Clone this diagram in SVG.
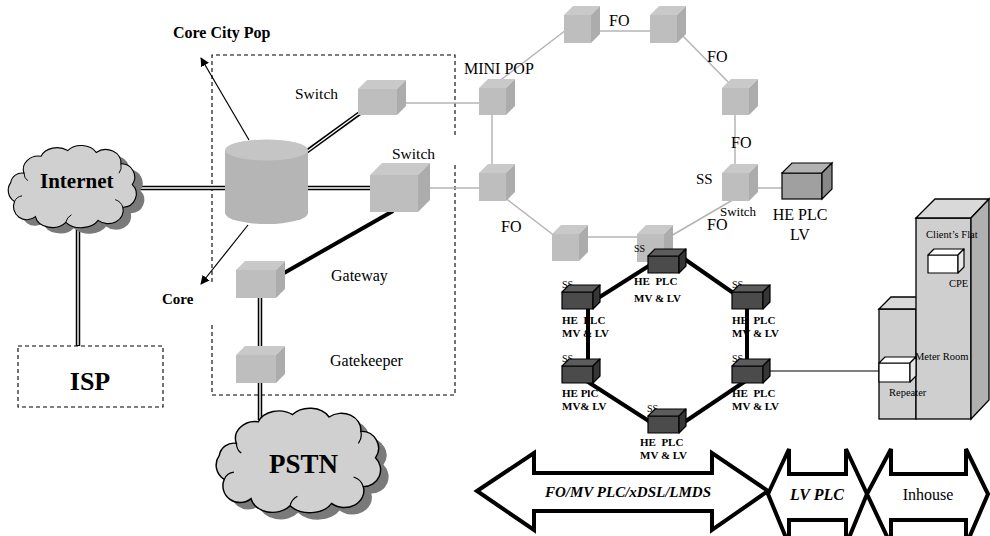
<svg xmlns="http://www.w3.org/2000/svg" width="990" height="536" viewBox="0 0 990 536">
  <style>
    text { font-family: "Liberation Serif", "Times New Roman", serif; fill: #000; }
    .lbl { font-size: 16px; }
    .b { font-weight: bold; }
    .plc { font-size: 11px; font-weight: bold; white-space: pre; }
    .ss { font-size: 10px; }
    .small { font-size: 10.5px; }
    .gf { fill: #bebebe; }
    .gt { fill: #c9c9c9; }
    .gs { fill: #acacac; }
    .df { fill: #4b4b4b; stroke: #000; stroke-width: 1.2; stroke-linejoin: round; }
    .dt { fill: #5c5c5c; stroke: #000; stroke-width: 1.2; stroke-linejoin: round; }
    .ds { fill: #363636; stroke: #000; stroke-width: 1.2; stroke-linejoin: round; }
    .wf { fill: #fff; stroke: #000; stroke-width: 1.2; stroke-linejoin: round; }
    .ws { fill: #e8e8e8; stroke: #000; stroke-width: 1.2; stroke-linejoin: round; }
    .fo { stroke: #b4b4b4; stroke-width: 1.5; fill: none; }
    .dbl-o { stroke: #000; stroke-width: 4.5; fill: none; }
    .dbl-i { stroke: #fff; stroke-width: 1.4; fill: none; }
    .thick { stroke: #000; stroke-width: 4; fill: none; }
    .thin { stroke: #000; stroke-width: 1.2; fill: none; }
    .dash { stroke: #000; stroke-width: 1.1; fill: none; stroke-dasharray: 4 3; }
    .cloud { fill: #d0d0d0; stroke: #000; stroke-width: 1.2; }
    .curl { fill: none; stroke: #000; stroke-width: 1; }
    .cloud-sh { fill: #7a7a7a; }
    .band { fill: #fff; stroke: #000; stroke-width: 4; stroke-linejoin: miter; }
    .bld-f { fill: #cfcfcf; stroke: #000; stroke-width: 1.3; }
    .bld-t { fill: #d9d9d9; stroke: #000; stroke-width: 1.3; }
    .bld-s { fill: #b0b0b0; stroke: #000; stroke-width: 1.3; }
  </style>
  <defs>
    <marker id="arrow" viewBox="0 0 10 10" refX="9" refY="5" markerWidth="9" markerHeight="9" markerUnits="userSpaceOnUse" orient="auto">
      <path d="M0,0 L10,5 L0,10 Z" fill="#000"/>
    </marker>
    <path id="cloudShape" d="M20,32 A16,14 0 0 1 38,14 A18,14 0 0 1 66,8 A18,14 0 0 1 96,10 A16,14 0 0 1 122,22 A14,14 0 0 1 134,44 A14,14 0 0 1 124,68 A16,14 0 0 1 98,82 A20,14 0 0 1 64,84 A18,14 0 0 1 32,78 A14,14 0 0 1 10,62 A14,14 0 0 1 6,42 A12,12 0 0 1 20,32 Z"/>
    <path id="cloudCurls" d="M20,32 A10,10 0 0 0 24,40 M122,22 A12,12 0 0 1 120,32 M124,68 A12,12 0 0 0 116,60 M64,84 A12,12 0 0 1 70,76 M10,62 A10,10 0 0 1 18,56"/>
  </defs>

  <!-- core city pop boundary and isp boundary -->
  <g id="boundaries">
    <path class="dash" d="M212,282 L212,55 L455,55 L455,138"/>
    <path class="dash" d="M455,165 L455,395 L212,395 L212,322"/>
    <rect class="dash" x="18" y="346" width="145" height="61"/>
  </g>

  <!-- connectors -->
  <g id="connectors">
    <!-- fibre ring (grey) -->
    <line class="fo" x1="498" y1="82" x2="566" y2="30"/>
    <line class="fo" x1="591" y1="31" x2="652" y2="31"/>
    <line class="fo" x1="677" y1="30" x2="736" y2="90"/>
    <line class="fo" x1="735" y1="112" x2="735" y2="175"/>
    <line class="fo" x1="736" y1="198" x2="664" y2="240"/>
    <line class="fo" x1="579" y1="237" x2="639" y2="237"/>
    <line class="fo" x1="560" y1="240" x2="500" y2="194"/>
    <line class="fo" x1="492" y1="112" x2="492" y2="175"/>
    <line class="fo" x1="397" y1="103" x2="481" y2="103"/>
    <line class="fo" x1="418" y1="188" x2="481" y2="188"/>
    <line class="fo" x1="749" y1="188" x2="784" y2="188"/>

    <!-- double lines -->
    <g>
      <line class="dbl-o" x1="138" y1="188" x2="226" y2="188"/>
      <line class="dbl-o" x1="307" y1="188" x2="371" y2="188"/>
      <line class="dbl-o" x1="306" y1="152" x2="360" y2="113"/>
      <line class="dbl-o" x1="78" y1="226" x2="78" y2="346"/>
      <line class="dbl-o" x1="260" y1="297" x2="260" y2="356"/>
      <line class="dbl-o" x1="260" y1="382" x2="260" y2="420"/>
      <line class="dbl-i" x1="136" y1="188" x2="228" y2="188"/>
      <line class="dbl-i" x1="305" y1="188" x2="373" y2="188"/>
      <line class="dbl-i" x1="305" y1="153" x2="361" y2="112"/>
      <line class="dbl-i" x1="78" y1="224" x2="78" y2="345"/>
      <line class="dbl-i" x1="260" y1="296" x2="260" y2="357"/>
      <line class="dbl-i" x1="260" y1="381" x2="260" y2="419"/>
    </g>

    <!-- switch to gateway -->
    <line class="thick" x1="393" y1="211" x2="284" y2="273" stroke-width="3"/>

    <!-- core arrows -->
    <line class="thin" x1="249" y1="140" x2="201" y2="58" marker-end="url(#arrow)"/>
    <line class="thin" x1="248" y1="225" x2="201" y2="284" marker-end="url(#arrow)"/>

    <!-- plc ring (thick black) -->
    <line class="thick" x1="655" y1="262" x2="595" y2="300"/>
    <line class="thick" x1="683" y1="258" x2="742" y2="299"/>
    <line class="thick" x1="588" y1="305" x2="588" y2="368"/>
    <line class="thick" x1="747" y1="305" x2="747" y2="368"/>
    <line class="thick" x1="585" y1="380" x2="655" y2="425"/>
    <line class="thick" x1="680" y1="425" x2="750" y2="378"/>

    <!-- low voltage line to repeater -->
    <line class="thin" x1="768" y1="371" x2="881" y2="371"/>
  </g>

  <!-- clouds -->
  <g id="internet">
    <use href="#cloudShape" class="cloud-sh" transform="translate(13,149) scale(0.95,0.944)"/>
    <use href="#cloudShape" class="cloud" transform="translate(5,143) scale(0.95,0.944)"/>
    <use href="#cloudCurls" class="curl" transform="translate(5,143) scale(0.95,0.944)"/>
    <text x="40" y="188" class="b" font-size="21">Internet</text>
  </g>
  <g id="pstn">
    <use href="#cloudShape" class="cloud-sh" transform="translate(220,412) scale(1.22,1.2)"/>
    <use href="#cloudShape" class="cloud" transform="translate(212,405) scale(1.22,1.2)"/>
    <use href="#cloudCurls" class="curl" transform="translate(212,405) scale(1.22,1.2)"/>
    <text x="269" y="473" class="b" font-size="27">PSTN</text>
  </g>
  <g id="isp">
    <text x="90" y="390" class="b" font-size="26" text-anchor="middle">ISP</text>
  </g>

  <!-- core router -->
  <g id="core-router">
    <path d="M225,150 L225,213 A41.5,11 0 0 0 308,213 L308,150 Z" fill="#b5b5b5"/>
    <ellipse cx="266.5" cy="150" rx="41.5" ry="10.5" fill="#c5c5c5"/>
  </g>
  <g id="core-labels">
    <text x="173" y="38" class="b" font-size="16">Core City Pop</text>
    <text x="162" y="304" class="b" font-size="15">Core</text>
  </g>

  <g id="switch-1">
    <rect class="gf" x="358" y="89" width="39" height="26"/>
    <polygon class="gt" points="358,89 367,80 406,80 397,89"/>
    <polygon class="gs" points="397,89 406,80 406,106 397,115"/>
    <text x="295" y="99" font-size="15.5">Switch</text>
  </g>
  <g id="switch-2">
    <rect class="gf" x="370" y="175" width="48" height="37"/>
    <polygon class="gt" points="370,175 382,163 430,163 418,175"/>
    <polygon class="gs" points="418,175 430,163 430,200 418,212"/>
    <text x="392" y="159" font-size="15.5">Switch</text>
  </g>
  <g id="gateway">
    <rect class="gf" x="236" y="270" width="40" height="28"/>
    <polygon class="gt" points="236,270 245,261 285,261 276,270"/>
    <polygon class="gs" points="276,270 285,261 285,289 276,298"/>
    <text x="331" y="281" class="lbl">Gateway</text>
  </g>
  <g id="gatekeeper">
    <rect class="gf" x="236" y="355" width="40" height="28"/>
    <polygon class="gt" points="236,355 245,346 285,346 276,355"/>
    <polygon class="gs" points="276,355 285,346 285,374 276,383"/>
    <text x="330" y="366" class="lbl">Gatekeeper</text>
  </g>

  <!-- fibre ring nodes -->
  <g id="mini-pop">
    <rect class="gf" x="479" y="88" width="27" height="27"/>
    <polygon class="gt" points="479,88 488,79 515,79 506,88"/>
    <polygon class="gs" points="506,88 515,79 515,106 506,115"/>
    <text x="464" y="74" class="lbl">MINI POP</text>
  </g>
  <g id="ring-left">
    <rect class="gf" x="479" y="173" width="27" height="28"/>
    <polygon class="gt" points="479,173 488,164 515,164 506,173"/>
    <polygon class="gs" points="506,173 515,164 515,192 506,201"/>
  </g>
  <g id="ring-top-left">
    <rect class="gf" x="564" y="15" width="27" height="28"/>
    <polygon class="gt" points="564,15 573,6 600,6 591,15"/>
    <polygon class="gs" points="591,15 600,6 600,34 591,43"/>
  </g>
  <g id="ring-top-right">
    <rect class="gf" x="650" y="15" width="27" height="28"/>
    <polygon class="gt" points="650,15 659,6 686,6 677,15"/>
    <polygon class="gs" points="677,15 686,6 686,34 677,43"/>
  </g>
  <g id="ring-right">
    <rect class="gf" x="722" y="88" width="27" height="27"/>
    <polygon class="gt" points="722,88 731,79 758,79 749,88"/>
    <polygon class="gs" points="749,88 758,79 758,106 749,115"/>
  </g>
  <g id="ring-ss-switch">
    <rect class="gf" x="722" y="173" width="27" height="28"/>
    <polygon class="gt" points="722,173 731,164 758,164 749,173"/>
    <polygon class="gs" points="749,173 758,164 758,192 749,201"/>
    <text x="696" y="184" font-size="15">SS</text>
    <text x="720" y="216" font-size="13">Switch</text>
  </g>
  <g id="ring-bottom-left">
    <rect class="gf" x="552" y="234" width="27" height="27"/>
    <polygon class="gt" points="552,234 561,225 588,225 579,234"/>
    <polygon class="gs" points="579,234 588,225 588,252 579,261"/>
  </g>
  <g id="ring-bottom-right">
    <rect class="gf" x="637" y="234" width="27" height="28"/>
    <polygon class="gt" points="637,234 646,225 673,225 664,234"/>
    <polygon class="gs" points="664,234 673,225 673,253 664,262"/>
  </g>
  <g id="fo-labels">
    <text x="609" y="26" class="lbl">FO</text>
    <text x="707" y="62" class="lbl">FO</text>
    <text x="731" y="148" class="lbl">FO</text>
    <text x="707" y="230" class="lbl">FO</text>
    <text x="501" y="232" class="lbl">FO</text>
  </g>

  <g id="he-plc-lv">
    <rect fill="#a0a0a0" stroke="#000" stroke-width="1.2" x="782" y="173" width="40" height="26"/>
    <polygon fill="#b2b2b2" stroke="#000" stroke-width="1.2" points="782,173 792,163 832,163 822,173"/>
    <polygon fill="#888" stroke="#000" stroke-width="1.2" points="822,173 832,163 832,189 822,199"/>
    <text x="800" y="220" class="lbl" text-anchor="middle">HE PLC</text>
    <text x="800" y="240" class="lbl" text-anchor="middle">LV</text>
  </g>

  <!-- medium/low voltage PLC head-ends -->
  <g id="plc-top">
    <text x="634" y="252" class="ss">SS</text>
    <rect class="df" x="648" y="256" width="31" height="17"/>
    <polygon class="dt" points="648,256 655,249 686,249 679,256"/>
    <polygon class="ds" points="679,256 686,249 686,266 679,273"/>
    <text x="634" y="285" class="plc">HE  PLC</text>
    <text x="634" y="302" class="plc">MV &amp; LV</text>
  </g>
  <g id="plc-upper-left">
    <text x="562" y="288" class="ss">SS</text>
    <rect class="df" x="562" y="292" width="31" height="17"/>
    <polygon class="dt" points="562,292 569,285 600,285 593,292"/>
    <polygon class="ds" points="593,292 600,285 600,302 593,309"/>
    <text x="562" y="324" class="plc">HE  PLC</text>
    <text x="562" y="337" class="plc">MV &amp; LV</text>
  </g>
  <g id="plc-lower-left">
    <text x="562" y="362" class="ss">SS</text>
    <rect class="df" x="562" y="366" width="31" height="17"/>
    <polygon class="dt" points="562,366 569,359 600,359 593,366"/>
    <polygon class="ds" points="593,366 600,359 600,376 593,383"/>
    <text x="562" y="397" class="plc">HE PlC</text>
    <text x="562" y="410" class="plc">MV&amp; LV</text>
  </g>
  <g id="plc-bottom">
    <text x="647" y="412" class="ss">SS</text>
    <rect class="df" x="648" y="416" width="31" height="17"/>
    <polygon class="dt" points="648,416 655,409 686,409 679,416"/>
    <polygon class="ds" points="679,416 686,409 686,426 679,433"/>
    <text x="640" y="446" class="plc">HE  PLC</text>
    <text x="640" y="459" class="plc">MV &amp; LV</text>
  </g>
  <g id="plc-upper-right">
    <text x="732" y="288" class="ss">SS</text>
    <rect class="df" x="732" y="292" width="31" height="17"/>
    <polygon class="dt" points="732,292 739,285 770,285 763,292"/>
    <polygon class="ds" points="763,292 770,285 770,302 763,309"/>
    <text x="732" y="324" class="plc">HE  PLC</text>
    <text x="732" y="337" class="plc">MV &amp; LV</text>
  </g>
  <g id="plc-lower-right">
    <text x="732" y="362" class="ss">SS</text>
    <rect class="df" x="732" y="366" width="31" height="17"/>
    <polygon class="dt" points="732,366 739,359 770,359 763,366"/>
    <polygon class="ds" points="763,366 770,359 770,376 763,383"/>
    <text x="732" y="397" class="plc">HE  PLC</text>
    <text x="732" y="410" class="plc">MV &amp; LV</text>
  </g>

  <!-- customer building -->
  <g id="meter-room">
    <rect class="bld-f" x="879" y="309" width="37" height="110"/>
    <polygon class="bld-t" points="879,309 891,297 928,297 916,309"/>
  </g>
  <g id="clients-flat">
    <rect class="bld-f" x="916" y="218" width="55" height="201"/>
    <polygon class="bld-t" points="916,218 935,199 989,199 971,218"/>
    <polygon class="bld-s" points="971,218 989,199 989,400 971,419"/>
    <text x="926" y="238" class="small">Client’s Flat</text>
    <text x="915" y="360" class="small">Meter Room</text>
  </g>
  <g id="cpe">
    <rect class="wf" x="928" y="255" width="30" height="18"/>
    <polygon class="wf" points="928,255 934,249 964,249 958,255"/>
    <polygon class="ws" points="958,255 964,249 964,267 958,273"/>
    <text x="949" y="287" class="small">CPE</text>
  </g>
  <g id="repeater">
    <rect class="wf" x="879" y="363" width="31" height="19"/>
    <polygon class="wf" points="879,363 885,357 916,357 910,363"/>
    <polygon class="ws" points="910,363 916,357 916,376 910,382"/>
    <text x="889" y="396" class="small">Repeater</text>
  </g>

  <!-- access segments -->
  <g id="segment-access">
    <polygon class="band" points="477,491 534,453 534,473 712,473 712,453 768,491 712,530 712,511 534,511 534,530"/>
    <text x="628" y="497" class="b" font-size="15" font-style="italic" text-anchor="middle">FO/MV PLC/xDSL/LMDS</text>
  </g>
  <g id="segment-lv">
    <polygon class="band" points="768,494 789,449 789,474 846,474 846,449 867,494 846,545 846,520 789,520 789,545"/>
    <text x="817" y="500" class="b" font-size="16" font-style="italic" text-anchor="middle">LV PLC</text>
  </g>
  <g id="segment-inhouse">
    <polygon class="band" points="867,494 891,449 891,474 966,474 966,449 988,494 966,545 966,520 891,520 891,545"/>
    <text x="928" y="500" class="lbl" text-anchor="middle">Inhouse</text>
  </g>
</svg>
